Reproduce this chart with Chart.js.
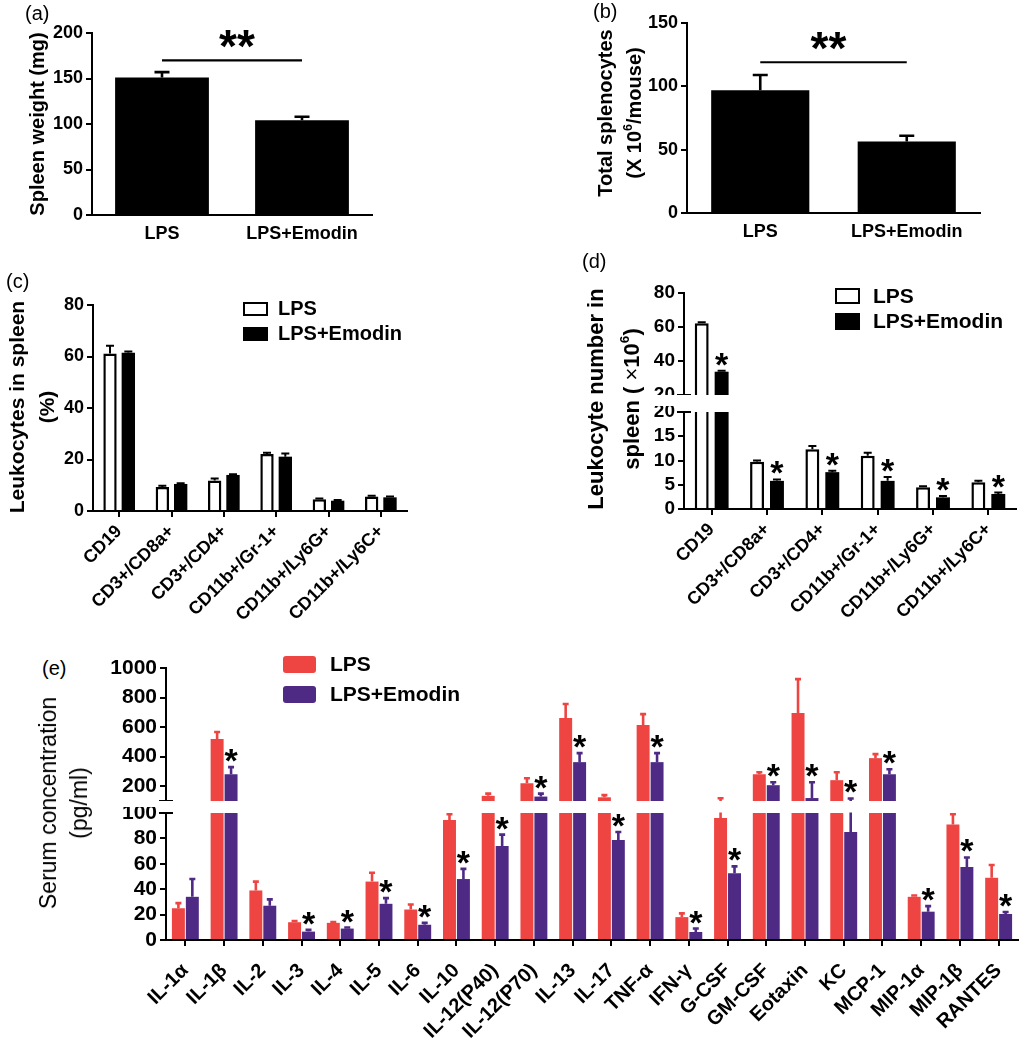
<!DOCTYPE html>
<html><head><meta charset="utf-8">
<script src="https://cdn.jsdelivr.net/npm/chart.js@4.4.1/dist/chart.umd.min.js"></script>
<style>
body{margin:0;background:#fff;}
#root{position:relative;width:1036px;height:1050px;overflow:hidden;font-family:'Liberation Sans',Arial,sans-serif;color:#000;background:#fff;}
canvas{position:absolute;}
.pl{position:absolute;font-size:20px;line-height:20px;white-space:nowrap;}
.yt{position:absolute;transform:translate(-50%,-50%) rotate(-90deg);white-space:nowrap;text-align:center;font-weight:bold;}
.yt sup{font-size:0.62em;line-height:0;vertical-align:0.75em;}
.lg{position:absolute;font-weight:bold;white-space:nowrap;}
.bx{position:absolute;box-sizing:border-box;}
</style></head><body><div id="root"></div>
<script>
// ================= DATA =================
const groupNames = ['LPS', 'LPS+Emodin'];

// (a) spleen weight (mg)
const aLabels = ['LPS', 'LPS+Emodin'];
const aValues = [151, 104];
const aErrTop = [157, 108];
const aSigLevel = 170;
const aTicks = [0, 50, 100, 150, 200];

// (b) total splenocytes (x10^6/mouse)
const bLabels = ['LPS', 'LPS+Emodin'];
const bValues = [97, 56.5];
const bErrTop = [109, 61];
const bSigLevel = 119;
const bTicks = [0, 50, 100, 150];

// (c) leukocytes in spleen (%)
const cellLabels = ['CD19', 'CD3+/CD8a+', 'CD3+/CD4+', 'CD11b+/Gr-1+', 'CD11b+/Ly6G+', 'CD11b+/Ly6C+'];
const cLPS = [61.2, 9.3, 11.8, 22.1, 4.6, 5.6];
const cLPSErr = [64.2, 9.8, 12.6, 22.6, 4.9, 5.9];
const cEmodin = [61.5, 10.5, 14.0, 21.1, 4.0, 5.3];
const cEmodinErr = [61.9, 10.8, 14.3, 22.3, 4.3, 5.6];
const cTicks = [0, 20, 40, 60, 80];

// (d) leukocyte number in spleen (x10^6)
const dLPS = [62.2, 9.75, 12.3, 11.0, 4.5, 5.5];
const dLPSErr = [62.8, 10.0, 13.0, 11.6, 4.7, 5.8];
const dEmodin = [33.7, 5.8, 7.6, 5.8, 2.4, 3.1];
const dEmodinErr = [34.2, 6.1, 7.9, 6.6, 2.7, 3.4];
const dStars = [1, 1, 1, 1, 1, 1];
const dTicksTop = [20, 40, 60, 80];
const dTicksBottom = [0, 5, 10, 15, 20];

// (e) serum concentration (pg/ml)
const cytokines = ['IL-1α', 'IL-1β', 'IL-2', 'IL-3', 'IL-4', 'IL-5', 'IL-6', 'IL-10', 'IL-12(P40)', 'IL-12(P70)', 'IL-13', 'IL-17', 'TNF-α', 'IFN-γ', 'G-CSF', 'GM-CSF', 'Eotaxin', 'KC', 'MCP-1', 'MIP-1α', 'MIP-1β', 'RANTES'];
const eLPS = [25, 519, 39, 14, 13.5, 46, 24, 94.5, 135, 220, 661, 125, 614, 18, 96, 281, 695, 241, 390, 34, 91, 49];
const eLPSErr = [29, 567, 46, 15, 14.2, 53, 28, 99, 150, 254, 756, 140, 688, 21, 119, 295, 925, 295, 417, 35, 99, 59];
const eEmodin = [34, 281, 27, 6.6, 9, 28.5, 12, 48, 74, 130, 363, 78.7, 363, 6.3, 52.6, 207, 120, 85, 281, 22.3, 57.5, 20.5];
const eEmodinErr = [48, 329, 32, 8, 9.8, 33, 13.5, 56, 83, 150, 424, 85, 424, 9, 58, 227, 227, 117, 315, 26.7, 65, 22];
const eStars = [0, 1, 0, 1, 1, 1, 1, 1, 1, 1, 1, 1, 1, 1, 1, 1, 1, 1, 1, 1, 1, 1];
const eTicksTop = [200, 400, 600, 800, 1000];
const eTicksBottom = [0, 20, 40, 60, 80, 100];

// ================= STYLE =================
const FONT = "'Liberation Sans', Arial, sans-serif";
const RED = '#ee4442';
const PURPLE = '#4e2a84';
Chart.defaults.font.family = FONT;
Chart.defaults.color = '#000';
Chart.defaults.animation = false;

const root = document.getElementById('root');

function addHTML(html) {
  const t = document.createElement('div');
  t.innerHTML = html;
  while (t.firstChild) root.appendChild(t.firstChild);
}

function marksPlugin(m) {
  return {
    id: 'marks',
    afterDatasetsDraw(chart) {
      if (!m) return;
      const ctx = chart.ctx, a = chart.chartArea, y = chart.scales.y;
      // error bars (clipped to the plot area)
      ctx.save();
      ctx.beginPath();
      ctx.rect(a.left - 30, a.top - 0.5, a.right - a.left + 60, a.bottom - a.top + 1);
      ctx.clip();
      (m.errs || []).forEach((arr, di) => {
        if (!arr) return;
        const meta = chart.getDatasetMeta(di);
        ctx.strokeStyle = m.errColors[di];
        ctx.lineWidth = m.errLW;
        meta.data.forEach((bar, j) => {
          const v = arr[j];
          if (v < y.min) return;
          const yt = y.getPixelForValue(v);
          ctx.beginPath();
          ctx.moveTo(bar.x, bar.y);
          ctx.lineTo(bar.x, yt);
          if (v <= y.max) {
            ctx.moveTo(bar.x - m.cap / 2, yt);
            ctx.lineTo(bar.x + m.cap / 2, yt);
          }
          ctx.stroke();
        });
      });
      ctx.restore();
      // asterisks above the treated group
      if (m.stars) {
        ctx.save();
        ctx.fillStyle = '#000';
        ctx.font = m.starFont;
        ctx.textAlign = 'center';
        ctx.textBaseline = 'alphabetic';
        const meta = chart.getDatasetMeta(m.starDataset);
        const arr = m.errs[m.starDataset];
        meta.data.forEach((bar, j) => {
          if (!m.stars[j]) return;
          const v = arr[j];
          if (v < y.min || v > y.max) return;
          ctx.fillText('*', bar.x, y.getPixelForValue(v) + m.starDy);
        });
        ctx.restore();
      }
      // significance bracket
      if (m.sig) {
        const d = chart.getDatasetMeta(0).data;
        const yy = y.getPixelForValue(m.sig.level);
        ctx.save();
        ctx.strokeStyle = '#000';
        ctx.lineWidth = 2.2;
        ctx.beginPath();
        ctx.moveTo(d[0].x, yy);
        ctx.lineTo(d[1].x, yy);
        ctx.stroke();
        ctx.fillStyle = '#000';
        ctx.font = m.sig.font;
        ctx.textAlign = 'center';
        ctx.textBaseline = 'alphabetic';
        ctx.fillText('**', (d[0].x + d[1].x) / 2 + m.sig.dx, yy + m.sig.dy);
        ctx.restore();
      }
      // axis-break marks
      (m.breaks || []).forEach(edge => {
        const yy = edge === 'top' ? a.top : a.bottom;
        ctx.save();
        ctx.strokeStyle = '#000';
        ctx.lineWidth = 2;
        ctx.beginPath();
        ctx.moveTo(a.left - 7, yy);
        ctx.lineTo(a.left + 7, yy);
        ctx.stroke();
        ctx.restore();
      });
    }
  };
}

function makeChart(o) {
  const yW = o.yW, xH = o.xShow ? o.xH : 0;
  const padT = o.padT || 14, padR = o.padR || 14;
  const w = Math.round(o.area.r - o.area.l + yW + padR);
  const h = Math.round(o.area.b - o.area.t + padT + xH);
  const c = document.createElement('canvas');
  c.width = w; c.height = h;
  c.style.left = (o.area.l - yW) + 'px';
  c.style.top = (o.area.t - padT) + 'px';
  c.style.width = w + 'px';
  c.style.height = h + 'px';
  root.appendChild(c);
  const zeroPad = s => { s.paddingTop = 0; s.paddingBottom = 0; s.paddingLeft = 0; s.paddingRight = 0; };
  return new Chart(c, {
    type: 'bar',
    data: {
      labels: o.labels,
      datasets: o.datasets.map(d => Object.assign({
        clip: 0, categoryPercentage: o.catPct, barPercentage: o.barPct, borderSkipped: 'start'
      }, d))
    },
    options: {
      responsive: false, maintainAspectRatio: false, animation: false, devicePixelRatio: 1,
      layout: { padding: { top: padT, right: padR, left: 0, bottom: 0 } },
      plugins: { legend: { display: false }, tooltip: { enabled: false } },
      scales: {
        x: {
          type: 'category', display: o.xShow, offset: true,
          afterFit: s => { s.height = xH; zeroPad(s); },
          border: { display: true, color: '#000', width: 2 },
          grid: { display: true, drawOnChartArea: false, drawTicks: !!o.xTickMarks, tickLength: 6, tickWidth: 2, tickColor: '#000', offset: false, color: '#000', lineWidth: 2 },
          ticks: { color: '#000', font: { family: FONT, size: o.xFont, weight: 'bold' }, maxRotation: o.rot, minRotation: o.rot, autoSkip: false, padding: o.xPad }
        },
        y: {
          type: 'linear', min: o.yMin, max: o.yMax,
          afterFit: s => { s.width = yW; zeroPad(s); },
          afterBuildTicks: s => { s.ticks = o.yTicks.map(v => ({ value: v })); },
          border: { display: true, color: '#000', width: 2 },
          grid: { display: true, drawOnChartArea: false, drawTicks: true, tickLength: 6, tickWidth: 2, tickColor: '#000', color: '#000', lineWidth: 2 },
          ticks: { color: '#000', font: { family: FONT, size: o.yFont, weight: 'bold' }, padding: 3, autoSkip: false, callback: v => String(v) }
        }
      }
    },
    plugins: [marksPlugin(o.marks)]
  });
}

// ================= PANEL (a) =================
makeChart({
  area: { l: 92, r: 372, t: 33, b: 215 }, yW: 80, xH: 40, padT: 32, xShow: true,
  labels: aLabels,
  datasets: [{ data: aValues, backgroundColor: '#000', borderWidth: 0 }],
  catPct: 1, barPct: 0.67,
  yMin: 0, yMax: 200, yTicks: aTicks, yFont: 18, xFont: 18, rot: 0, xPad: 8, xTickMarks: false,
  marks: { errs: [aErrTop], errColors: ['#000'], errLW: 2.6, cap: 15,
           sig: { level: aSigLevel, font: 'bold 46px ' + FONT, dx: 5, dy: 2 } }
});

// ================= PANEL (b) =================
makeChart({
  area: { l: 687, r: 980, t: 23, b: 213 }, yW: 80, xH: 40, padT: 22, xShow: true,
  labels: bLabels,
  datasets: [{ data: bValues, backgroundColor: '#000', borderWidth: 0 }],
  catPct: 1, barPct: 0.67,
  yMin: 0, yMax: 150, yTicks: bTicks, yFont: 18, xFont: 18, rot: 0, xPad: 8, xTickMarks: false,
  marks: { errs: [bErrTop], errColors: ['#000'], errLW: 2.6, cap: 15,
           sig: { level: bSigLevel, font: 'bold 46px ' + FONT, dx: -5, dy: 2 } }
});

// ================= PANEL (c) =================
makeChart({
  area: { l: 93, r: 407, t: 305, b: 511 }, yW: 75, xH: 120, padT: 16, xShow: true,
  labels: cellLabels,
  datasets: [
    { label: groupNames[0], data: cLPS, backgroundColor: '#fff', borderColor: '#000', borderWidth: 2.5 },
    { label: groupNames[1], data: cEmodin, backgroundColor: '#000', borderColor: '#000', borderWidth: 0 }
  ],
  catPct: 0.70, barPct: 0.73,
  yMin: 0, yMax: 80, yTicks: cTicks, yFont: 18, xFont: 18, rot: 45, xPad: 4, xTickMarks: true,
  marks: { errs: [cLPSErr, cEmodinErr], errColors: ['#000', '#000'], errLW: 2, cap: 8 }
});

// ================= PANEL (d) (broken axis) =================
const dCommon = {
  yW: 80, labels: cellLabels,
  datasets: [
    { label: groupNames[0], data: dLPS, backgroundColor: '#fff', borderColor: '#000', borderWidth: 2.5 },
    { label: groupNames[1], data: dEmodin, backgroundColor: '#000', borderColor: '#000', borderWidth: 0 }
  ],
  catPct: 0.72, barPct: 0.70, yFont: 19, xFont: 18, rot: 45, xPad: 4, xTickMarks: true
};
makeChart(Object.assign({}, dCommon, {
  area: { l: 684, r: 1016, t: 293, b: 395 }, padT: 16, xShow: false,
  yMin: 20, yMax: 80, yTicks: dTicksTop,
  marks: { errs: [dLPSErr, dEmodinErr], errColors: ['#000', '#000'], errLW: 2, cap: 8,
           stars: dStars, starDataset: 1, starFont: 'bold 34px ' + FONT, starDy: 5, breaks: ['bottom'] }
}));
makeChart(Object.assign({}, dCommon, {
  area: { l: 684, r: 1016, t: 412, b: 509 }, padT: 6, xShow: true, xH: 120,
  yMin: 0, yMax: 20, yTicks: dTicksBottom,
  marks: { errs: [dLPSErr, dEmodinErr], errColors: ['#000', '#000'], errLW: 2, cap: 8,
           stars: dStars, starDataset: 1, starFont: 'bold 34px ' + FONT, starDy: 5, breaks: ['top'] }
}));

// ================= PANEL (e) (broken axis) =================
const eCommon = {
  yW: 90, labels: cytokines,
  datasets: [
    { label: groupNames[0], data: eLPS, backgroundColor: RED, borderWidth: 0 },
    { label: groupNames[1], data: eEmodin, backgroundColor: PURPLE, borderWidth: 0 }
  ],
  catPct: 0.72, barPct: 0.93, yFont: 21, xFont: 20, rot: 45, xPad: 13, xTickMarks: true
};
makeChart(Object.assign({}, eCommon, {
  area: { l: 166, r: 1018, t: 668, b: 801 }, padT: 14, xShow: false,
  yMin: 100, yMax: 1000, yTicks: eTicksTop,
  marks: { errs: [eLPSErr, eEmodinErr], errColors: [RED, PURPLE], errLW: 2.6, cap: 6,
           stars: eStars, starDataset: 1, starFont: 'bold 34px ' + FONT, starDy: 5, breaks: ['bottom'] }
}));
makeChart(Object.assign({}, eCommon, {
  area: { l: 166, r: 1018, t: 813, b: 940 }, padT: 6, xShow: true, xH: 108,
  yMin: 0, yMax: 100, yTicks: eTicksBottom,
  marks: { errs: [eLPSErr, eEmodinErr], errColors: [RED, PURPLE], errLW: 2.6, cap: 6,
           stars: eStars, starDataset: 1, starFont: 'bold 34px ' + FONT, starDy: 5, breaks: ['top'] }
}));

// ================= TEXT: panel labels, axis titles, legends =================
addHTML(`
<div class="pl" style="left:25px;top:3px;">(a)</div>
<div class="pl" style="left:593px;top:1px;">(b)</div>
<div class="pl" style="left:6px;top:271px;">(c)</div>
<div class="pl" style="left:582px;top:251px;">(d)</div>
<div class="pl" style="left:42px;top:658px;">(e)</div>

<div class="yt" style="left:37px;top:124px;font-size:20px;line-height:24px;">Spleen weight (mg)</div>
<div class="yt" style="left:620px;top:113px;font-size:20px;line-height:29px;">Total splenocytes<br>(X 10<sup>6</sup>/mouse)</div>
<div class="yt" style="left:32px;top:407px;font-size:21px;line-height:30px;">Leukocytes in spleen<br>(%)</div>
<div class="yt" style="left:614px;top:399px;font-size:22px;line-height:36px;">Leukocyte number in<br>spleen ( <span style="font-weight:normal">×</span>10<sup>6</sup>)</div>
<div class="yt" style="left:64px;top:803px;font-size:23px;line-height:31px;font-weight:normal;">Serum concentration<br>(pg/ml)</div>

<div class="bx" style="left:243px;top:302px;width:25px;height:14px;border:2.5px solid #000;background:#fff;"></div>
<div class="lg" style="left:278px;top:296px;font-size:20px;line-height:24px;">${groupNames[0]}</div>
<div class="bx" style="left:243px;top:327px;width:25px;height:14px;background:#000;"></div>
<div class="lg" style="left:278px;top:321px;font-size:20px;line-height:24px;">${groupNames[1]}</div>

<div class="bx" style="left:835px;top:288px;width:25px;height:16px;border:2.5px solid #000;background:#fff;"></div>
<div class="lg" style="left:873px;top:284px;font-size:21px;line-height:24px;">${groupNames[0]}</div>
<div class="bx" style="left:835px;top:313px;width:25px;height:17px;background:#000;"></div>
<div class="lg" style="left:873px;top:309px;font-size:21px;line-height:24px;">${groupNames[1]}</div>

<div class="bx" style="left:283px;top:656px;width:33px;height:17px;background:${RED};border-radius:3px;"></div>
<div class="lg" style="left:330px;top:652px;font-size:21px;line-height:24px;">${groupNames[0]}</div>
<div class="bx" style="left:283px;top:686px;width:33px;height:17px;background:${PURPLE};border-radius:3px;"></div>
<div class="lg" style="left:330px;top:682px;font-size:21px;line-height:24px;">${groupNames[1]}</div>
`);
</script></body></html>
